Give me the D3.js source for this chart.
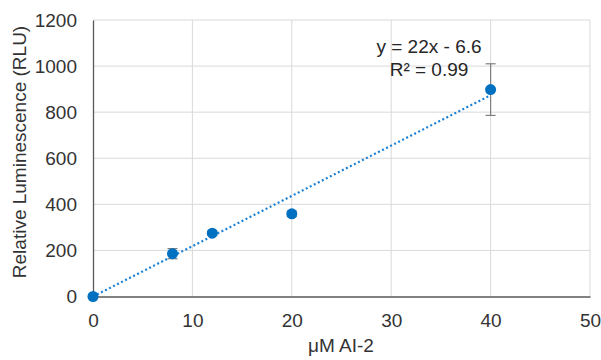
<!DOCTYPE html>
<html>
<head>
<meta charset="utf-8">
<script src="https://cdn.jsdelivr.net/npm/d3@7"></script>
<style>
  body { margin: 0; background: #fff; }
  text { font-family: "Liberation Sans", Arial, sans-serif; }
</style>
</head>
<body>
<svg id="chart" width="601" height="360"></svg>
<script>
// data
var conc = [0, 8, 12, 20, 40];
var rlu = [0, 186, 275, 359, 898];
var err = [0, 22, 10, 12, 112];
var xTicks = [0, 10, 20, 30, 40, 50];
var yTicks = [0, 200, 400, 600, 800, 1000, 1200];
var trend = [22, -6.6]; // slope, intercept
var trendLabel = ['y = 22x - 6.6', 'R\u00b2 = 0.99'];

var blue = '#0070c0';
var ink = '#333333';
var svg = d3.select('#chart');

var x = d3.scaleLinear().domain([0, 50]).range([93, 590]);
var y = d3.scaleLinear().domain([0, 1200]).range([296.5, 20]);

// grid
svg.append('g').selectAll('line.h')
    .data(yTicks.slice(1))
    .join('line')
    .attr('x1', x(0)).attr('x2', x(50))
    .attr('y1', d => y(d)).attr('y2', d => y(d))
    .attr('stroke', '#d9d9d9').attr('stroke-width', 1);
svg.append('g').selectAll('line.v')
    .data(xTicks.slice(1))
    .join('line')
    .attr('x1', d => x(d)).attr('x2', d => x(d))
    .attr('y1', y(0)).attr('y2', y(1200))
    .attr('stroke', '#d9d9d9').attr('stroke-width', 1);

// axes
let xAxis = svg.append('g')
    .attr('transform', `translate(0,${y(0)})`)
    .call(d3.axisBottom(x).tickValues(xTicks).tickFormat(d3.format('d')).tickSize(0).tickPadding(17));
let yAxis = svg.append('g')
    .attr('transform', `translate(${x(0)},0)`)
    .call(d3.axisLeft(y).tickValues(yTicks).tickFormat(d3.format('d')).tickSize(0).tickPadding(16));
[xAxis, yAxis].forEach(a => {
    a.select('.domain').attr('stroke', '#595959').attr('stroke-width', 1.3);
    a.selectAll('text').attr('font-size', 19).attr('fill', ink)
        .attr('font-family', '"Liberation Sans", Arial, sans-serif');
});

// axis titles
svg.append('text')
    .attr('x', 341).attr('y', 352)
    .attr('text-anchor', 'middle')
    .attr('font-size', 19).attr('fill', ink)
    .text('\u03bcM AI-2');
svg.append('text')
    .attr('transform', 'translate(26,152) rotate(-90)')
    .attr('text-anchor', 'middle')
    .attr('font-size', 19).attr('fill', ink)
    .text('Relative Luminescence (RLU)');

// trendline
let tx = [0, 40];
svg.append('line')
    .attr('x1', x(tx[0])).attr('y1', y(Math.max(0, trend[0] * tx[0] + trend[1])))
    .attr('x2', x(tx[1])).attr('y2', y(trend[0] * tx[1] + trend[1]))
    .attr('stroke', '#1a80d4').attr('stroke-width', 2.2)
    .attr('stroke-dasharray', '2,2.5');

// error bars
let eb = svg.append('g').attr('stroke', '#7f7f7f').attr('stroke-width', 1.2);
conc.forEach((c, i) => {
    if (!err[i]) return;
    let x0 = x(c), y1 = y(rlu[i] + err[i]), y2 = y(rlu[i] - err[i]);
    eb.append('line').attr('x1', x0).attr('x2', x0).attr('y1', y1).attr('y2', y2);
    eb.append('line').attr('x1', x0 - 5).attr('x2', x0 + 5).attr('y1', y1).attr('y2', y1);
    eb.append('line').attr('x1', x0 - 5).attr('x2', x0 + 5).attr('y1', y2).attr('y2', y2);
});

// points
svg.append('g').selectAll('circle')
    .data(conc)
    .join('circle')
    .attr('cx', d => x(d))
    .attr('cy', (d, i) => y(rlu[i]))
    .attr('r', 5.5)
    .attr('fill', blue);

// equation label
svg.append('g').selectAll('text')
    .data(trendLabel)
    .join('text')
    .attr('x', 429)
    .attr('y', (d, i) => 53 + i * 23)
    .attr('text-anchor', 'middle')
    .attr('font-size', 19).attr('fill', '#262626')
    .text(d => d);
</script>
</body>
</html>
